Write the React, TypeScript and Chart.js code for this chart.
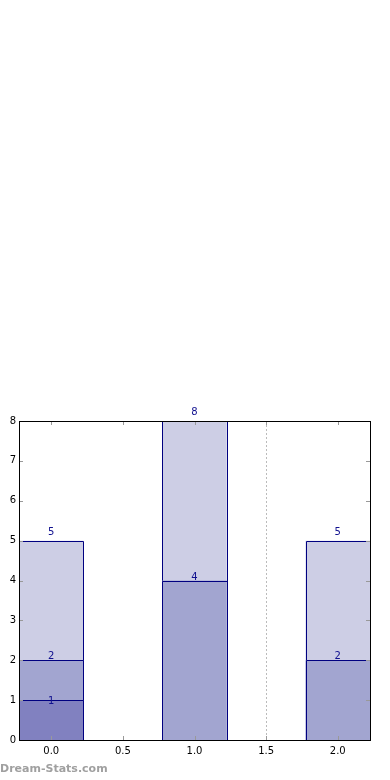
import React, { useEffect, useRef } from "react";
import { Chart, registerables } from "chart.js";

Chart.register(...registerables);

// ---- data ----
const CATEGORIES = [0, 1, 2];
const SERIES_TOTAL = [5, 8, 5];
const SERIES_MID = [2, 4, 2];
const SERIES_LOW: (number | null)[] = [1, null, null];
const X_TICKS = [0, 0.5, 1, 1.5, 2];
const Y_TICKS = [0, 1, 2, 3, 4, 5, 6, 7, 8];
const REF_LINE_X = 1.5;
const BAR_WIDTH = 0.45;
const X_MIN = -0.225;
const X_MAX = 2.225;
const Y_MIN = 0;
const Y_MAX = 8;
const WATERMARK = "Dream-Stats.com";

const FONT = "'DejaVu Sans', sans-serif";
const EDGE = "#000080";

const toPoints = (vals: (number | null)[]) =>
  CATEGORIES.map((x, i) => ({ x, y: vals[i] }));

const decorPlugin = {
  id: "decor",
  beforeDatasetsDraw(chart: any) {
    const { ctx, chartArea: a, scales } = chart;
    const xs = scales.x;
    ctx.save();
    const px = Math.round(xs.getPixelForValue(REF_LINE_X)) + 0.5;
    ctx.strokeStyle = "#bbbbbb";
    ctx.lineWidth = 1;
    ctx.setLineDash([2, 2]);
    ctx.beginPath();
    ctx.moveTo(px, a.top);
    ctx.lineTo(px, a.bottom);
    ctx.stroke();
    ctx.restore();
  },
  afterDatasetDraw(chart: any, args: any) {
    const { ctx } = chart;
    const meta = args.meta;
    const ds = chart.data.datasets[args.index];
    ctx.save();
    ctx.strokeStyle = EDGE;
    ctx.lineWidth = 1;
    meta.data.forEach((el: any, i: number) => {
      const v = ds.data[i].y;
      if (v === null || v === undefined) return;
      const l = Math.round(el.x - el.width / 2) + 0.5;
      const r = Math.round(el.x + el.width / 2) + 0.5;
      const t = Math.round(el.y) + 0.5;
      const b = Math.round(el.base) + 0.5;
      ctx.beginPath();
      ctx.moveTo(l, b);
      ctx.lineTo(l, t);
      ctx.lineTo(r, t);
      ctx.lineTo(r, b);
      ctx.stroke();
    });
    ctx.restore();
  },
  afterDatasetsDraw(chart: any) {
    const { ctx, chartArea: a, scales } = chart;
    const xs = scales.x;
    const ys = scales.y;
    ctx.save();
    ctx.strokeStyle = "#999999";
    ctx.lineWidth = 1;
    const tl = 4;
    X_TICKS.forEach((v) => {
      const p = Math.round(xs.getPixelForValue(v)) + 0.5;
      ctx.beginPath();
      ctx.moveTo(p, a.top);
      ctx.lineTo(p, a.top + tl);
      ctx.moveTo(p, a.bottom);
      ctx.lineTo(p, a.bottom - tl);
      ctx.stroke();
    });
    Y_TICKS.forEach((v) => {
      const p = Math.round(ys.getPixelForValue(v)) + 0.5;
      ctx.beginPath();
      ctx.moveTo(a.left, p);
      ctx.lineTo(a.left + tl, p);
      ctx.moveTo(a.right, p);
      ctx.lineTo(a.right - tl, p);
      ctx.stroke();
    });
    ctx.strokeStyle = "#000000";
    ctx.lineWidth = 1;
    ctx.strokeRect(
      Math.round(a.left) + 0.5,
      Math.round(a.top) + 0.5,
      Math.round(a.right - a.left),
      Math.round(a.bottom - a.top)
    );
    ctx.fillStyle = "#10108f";
    ctx.font = `10px ${FONT}`;
    ctx.textAlign = "center";
    ctx.textBaseline = "alphabetic";
    chart.data.datasets.forEach((ds: any, di: number) => {
      const meta = chart.getDatasetMeta(di);
      const off = ds.labelOffset ?? 2;
      meta.data.forEach((el: any, i: number) => {
        const v = ds.data[i].y;
        if (v === null || v === undefined) return;
        ctx.fillText(String(v), el.x, el.y - off);
      });
    });
    ctx.restore();
  },
};

export default function App() {
  const ref = useRef<HTMLCanvasElement>(null);

  useEffect(() => {
    if (!ref.current) return;
    const common = {
      borderWidth: 0,
      grouped: false,
      categoryPercentage: 1,
      barPercentage: BAR_WIDTH / 0.5,
    };
    const chart = new Chart(ref.current, {
      type: "bar",
      data: {
        datasets: [
          {
            ...common,
            label: "total",
            data: toPoints(SERIES_TOTAL),
            backgroundColor: "#cdcee5",
            order: 3,
            labelOffset: 6,
          } as any,
          {
            ...common,
            label: "mid",
            data: toPoints(SERIES_MID),
            backgroundColor: "#a2a5d0",
            order: 2,
            labelOffset: 1,
          } as any,
          {
            ...common,
            label: "low",
            data: toPoints(SERIES_LOW),
            backgroundColor: "#8181c0",
            order: 1,
            labelOffset: -4,
          } as any,
        ],
      },
      options: {
        animation: false,
        responsive: false,
        maintainAspectRatio: false,
        layout: { padding: { left: 0, right: 20, top: 421, bottom: 0 } },
        plugins: {
          legend: { display: false },
          tooltip: { enabled: false },
        },
        scales: {
          x: {
            type: "linear",
            min: X_MIN,
            max: X_MAX,
            offset: false,
            grid: { display: false, drawTicks: false },
            border: { display: false },
            afterBuildTicks: (s: any) => {
              s.ticks = X_TICKS.map((v) => ({ value: v }));
            },
            afterFit: (s: any) => {
              s.height = 40;
            },
            ticks: {
              color: "#000000",
              font: { family: FONT, size: 10 },
              padding: 5,
              maxRotation: 0,
              autoSkip: false,
              callback: (v: any) => Number(v).toFixed(1),
            },
          },
          y: {
            type: "linear",
            min: Y_MIN,
            max: Y_MAX,
            grid: { display: false, drawTicks: false },
            border: { display: false },
            afterBuildTicks: (s: any) => {
              s.ticks = Y_TICKS.map((v) => ({ value: v }));
            },
            afterFit: (s: any) => {
              s.width = 19;
            },
            ticks: {
              color: "#000000",
              font: { family: FONT, size: 10 },
              padding: 3,
              autoSkip: false,
              callback: (v: any) => String(v),
            },
          },
        },
      } as any,
      plugins: [decorPlugin],
    });
    return () => chart.destroy();
  }, []);

  return (
    <div
      style={{
        position: "fixed",
        left: 0,
        top: 0,
        width: 390,
        height: 780,
        background: "#ffffff",
      }}
    >
      <canvas ref={ref} width={390} height={780} style={{ display: "block" }} />
      <div
        style={{
          position: "absolute",
          left: 0,
          top: 762,
          fontFamily: FONT,
          fontWeight: "bold",
          fontSize: 11,
          lineHeight: "13px",
          color: "#a0a0a0",
          whiteSpace: "nowrap",
        }}
      >
        {WATERMARK}
      </div>
    </div>
  );
}
